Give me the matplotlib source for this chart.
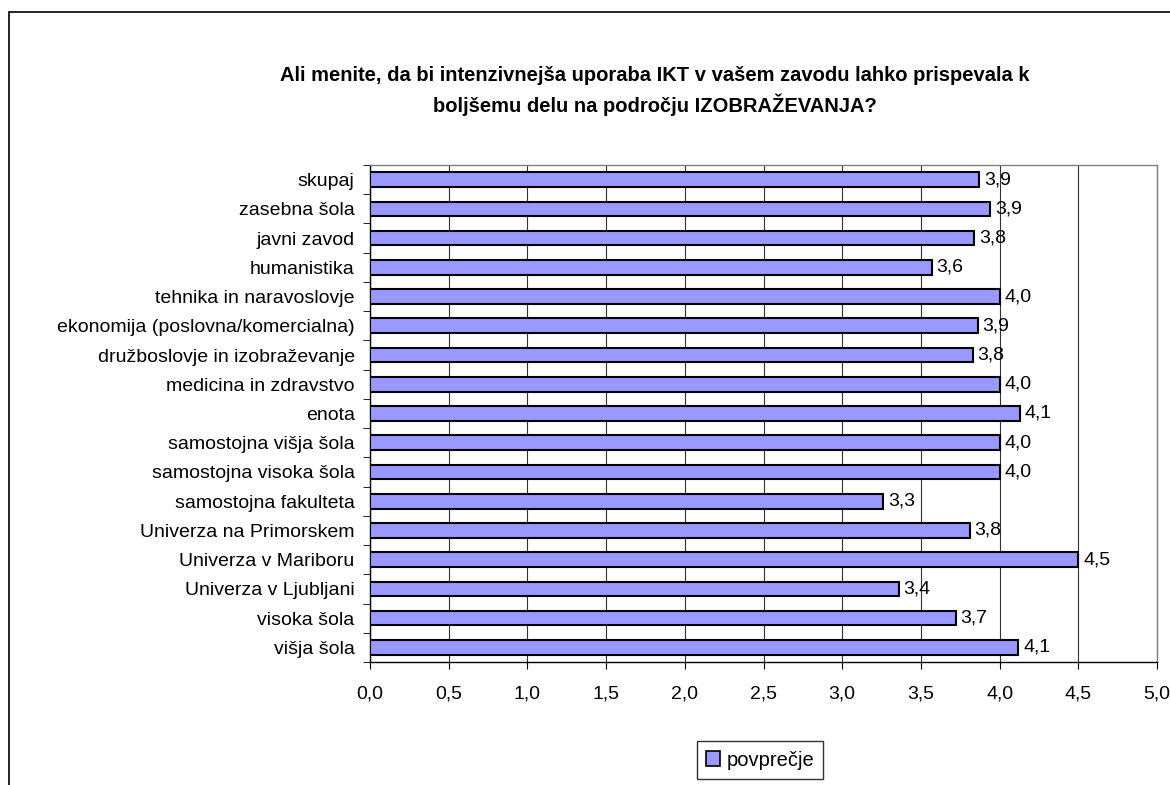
import matplotlib
matplotlib.use('Agg')
import matplotlib.pyplot as plt
from matplotlib.patches import Patch, Rectangle

plt.rcParams['font.family'] = ['Liberation Sans', 'DejaVu Sans']

# Data (top to bottom as in the chart)
categories = [
    'skupaj', 'zasebna šola', 'javni zavod', 'humanistika',
    'tehnika in naravoslovje', 'ekonomija (poslovna/komercialna)',
    'družboslovje in izobraževanje', 'medicina in zdravstvo', 'enota',
    'samostojna višja šola', 'samostojna visoka šola',
    'samostojna fakulteta', 'Univerza na Primorskem',
    'Univerza v Mariboru', 'Univerza v Ljubljani', 'visoka šola', 'višja šola',
]
values = [3.87, 3.94, 3.84, 3.57, 4.00, 3.86, 3.83, 4.00, 4.13,
          4.00, 4.00, 3.26, 3.81, 4.50, 3.36, 3.72, 4.12]
x_ticks = [0.0, 0.5, 1.0, 1.5, 2.0, 2.5, 3.0, 3.5, 4.0, 4.5, 5.0]
title = ('Ali menite, da bi intenzivnejša uporaba IKT v vašem zavodu lahko prispevala k\n'
         'boljšemu delu na področju IZOBRAŽEVANJA?')
series_name = 'povprečje'

fig = plt.figure(figsize=(11.7, 7.85), dpi=100)
ax = fig.add_axes([370 / 1170, 1 - 662 / 785, 787 / 1170, 497 / 785])

y = list(range(len(categories)))
ax.barh(y, values, height=0.5, color='#9999FF', edgecolor='black', linewidth=1.5, zorder=3)

for yi, v in zip(y, values):
    ax.text(v + 0.03, yi, f'{v:.1f}'.replace('.', ','), va='center', ha='left', fontsize=14, zorder=4)

ax.set_xlim(0, 5)
ax.set_ylim(len(categories) - 0.5, -0.5)
ax.set_xticks(x_ticks)
ax.set_xticklabels([f'{t:.1f}'.replace('.', ',') for t in x_ticks], fontsize=14)
ax.set_yticks(y)
ax.set_yticklabels(categories, fontsize=14)
ax.tick_params(axis='y', length=0, pad=11)
ax.tick_params(axis='x', length=5, direction='out', pad=12)
ax.set_yticks([i + 0.5 for i in range(-1, len(categories))], minor=True)
ax.tick_params(axis='y', which='minor', length=5, direction='out')

ax.grid(axis='x', color='#333333', linewidth=0.8, zorder=0)
ax.set_axisbelow(True)
for side in ['top', 'right']:
    ax.spines[side].set_color('#808080')
    ax.spines[side].set_linewidth(1)
for side in ['left', 'bottom']:
    ax.spines[side].set_color('black')
    ax.spines[side].set_linewidth(1)

fig.text(655 / 1170, 1 - 91 / 785, title, ha='center', va='center', fontsize=14.5,
         fontweight='bold', linespacing=1.45)

fig.legend(handles=[Patch(facecolor='#9999FF', edgecolor='black', linewidth=1.2)],
           labels=[series_name], loc='center', bbox_to_anchor=(760 / 1170, 1 - 760 / 785),
           fontsize=14.5, frameon=True, fancybox=False, edgecolor='black',
           handlelength=0.7, handleheight=0.7, handletextpad=0.3, borderpad=0.45)

# outer chart border (left and top visible)
fig.patches.append(Rectangle((9 / 1170, -0.1), 1.2, 1 - 12 / 785 + 0.1, transform=fig.transFigure,
                             fill=False, edgecolor='black', linewidth=1.2))

fig.savefig('out.png', dpi=100)
